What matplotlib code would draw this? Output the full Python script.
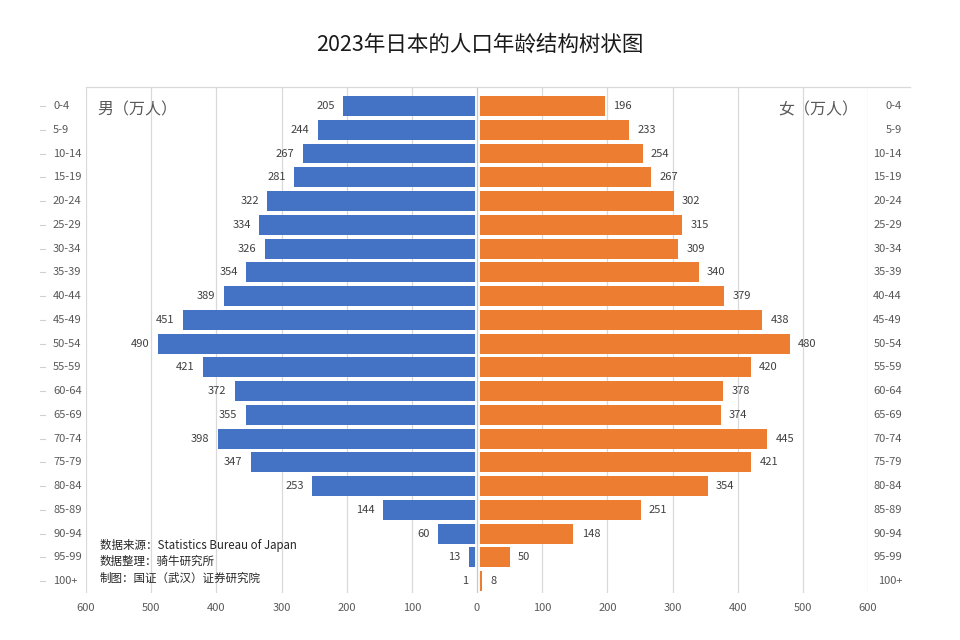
import matplotlib
matplotlib.use("Agg")
import matplotlib.pyplot as plt
import matplotlib.transforms as mtransforms
from matplotlib.lines import Line2D

plt.rcParams['font.family'] = ['Noto Sans CJK SC', 'DejaVu Sans']

ages = ["0-4", "5-9", "10-14", "15-19", "20-24", "25-29", "30-34", "35-39", "40-44",
        "45-49", "50-54", "55-59", "60-64", "65-69", "70-74", "75-79", "80-84", "85-89",
        "90-94", "95-99", "100+"]
male = [205, 244, 267, 281, 322, 334, 326, 354, 389, 451, 490, 421, 372, 355, 398, 347,
        253, 144, 60, 13, 1]
female = [196, 233, 254, 267, 302, 315, 309, 340, 379, 438, 480, 420, 378, 374, 445, 421,
          354, 251, 148, 50, 8]
xticks = [-600, -500, -400, -300, -200, -100, 0, 100, 200, 300, 400, 500, 600]
xticklabels = ["600", "500", "400", "300", "200", "100", "0", "100", "200", "300", "400", "500", "600"]

title = "2023年日本的人口年龄结构树状图"
male_label = "男（万人）"
female_label = "女（万人）"
notes = ["数据来源：Statistics Bureau of Japan", "数据整理：骑牛研究所", "制图：国证（武汉）证券研究院"]

BLUE = "#4472C4"
ORANGE = "#ED7D31"
GRID = "#D9D9D9"
TXT = "#595959"

W, H = 960, 640
fig = plt.figure(figsize=(W / 100, H / 100), dpi=100)
fig.patch.set_facecolor("white")

ax_l, ax_r, ax_t, ax_b = 86, 868, 87, 593
ax = fig.add_axes([ax_l / W, 1 - ax_b / H, (ax_r - ax_l) / W, (ax_b - ax_t) / H])

y = list(range(len(ages)))
ax.barh(y, [-v for v in male], height=0.84, color=BLUE, zorder=2)
ax.barh(y, female, height=0.84, color=ORANGE, zorder=2)

for i, v in enumerate(male):
    ax.annotate(str(v), (-v, i), xytext=(-6, 0), textcoords="offset points",
                ha="right", va="center", fontsize=8, color="#404040")
for i, v in enumerate(female):
    ax.annotate(str(v), (v, i), xytext=(6, 0), textcoords="offset points",
                ha="left", va="center", fontsize=8, color="#404040")

ax.set_xlim(-600, 600)
ax.set_ylim(20.5, -0.8)
ax.set_xticks(xticks)
ax.set_xticklabels(xticklabels, fontsize=8, color=TXT)
ax.tick_params(axis="x", length=0, pad=7)
ax.set_yticks([])
for s in ax.spines.values():
    s.set_visible(False)
for xv in xticks:
    if xv != 0:
        ax.axvline(xv, color=GRID, lw=0.9, zorder=0)
ax.axvline(0, color="white", lw=3.5, zorder=3)
ax.axvline(0, color="#C8C8C8", lw=0.9, zorder=4)

# age labels on both sides
trans = mtransforms.blended_transform_factory(fig.transFigure, ax.transData)
for i, a in enumerate(ages):
    ax.text(53 / W, i, a, transform=trans, ha="left", va="center", fontsize=8, color=TXT, clip_on=False)
    ax.text(902 / W, i, a, transform=trans, ha="right", va="center", fontsize=8, color=TXT, clip_on=False)
    fig.add_artist(Line2D([40 / W, 45 / W], [i, i], transform=trans, color="#D0D0D0", lw=0.8))

# top frame line
fig.add_artist(Line2D([ax_l / W, 910 / W], [1 - 87 / H, 1 - 87 / H], transform=fig.transFigure,
                      color=GRID, lw=0.9))

fig.text(480 / W, 1 - 45 / H, title, ha="center", va="center", fontsize=15.5, color="#1a1a1a")
fig.text(97 / W, 1 - 110 / H, male_label, ha="left", va="center", fontsize=11.5, color=TXT)
fig.text(858 / W, 1 - 110 / H, female_label, ha="right", va="center", fontsize=11.5, color=TXT)

for k, n in enumerate(notes):
    fig.text(100 / W, 1 - (545 + 16.5 * k) / H, n, ha="left", va="center", fontsize=8.3, color="#262626")

fig.savefig("out.png", dpi=100, facecolor="white")
